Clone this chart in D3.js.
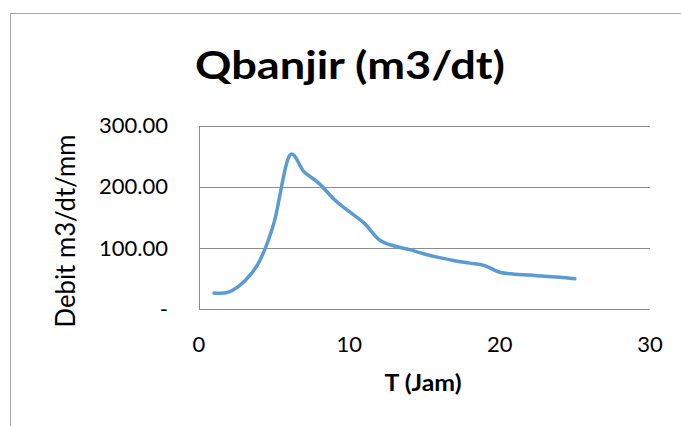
<!DOCTYPE html>
<html>
<head>
<meta charset="utf-8">
<script src="https://cdn.jsdelivr.net/npm/d3@7"></script>
<style>
  body { margin: 0; background: #fff; }
  svg { display: block; font-family: Lato, "Open Sans", sans-serif; }
</style>
</head>
<body>
<svg id="chart"></svg>
<script>
// data
var hours = [1, 2, 3, 4, 5, 6, 7, 8, 9, 10, 11, 12, 13, 14, 15, 16, 17, 18, 19, 20, 21, 22, 23, 24, 25];
var debit = [26, 28, 45, 77, 142, 250, 224, 205, 179, 159, 140, 113, 103, 97, 90, 84, 79, 75, 71, 60, 57, 55.5, 53.5, 52, 49.5];
var xTicks = [0, 10, 20, 30];
var yTicks = [0, 100, 200, 300];

var width = 681;
var height = 426;
var plot = {left: 199, right: 650, top: 125.5, bottom: 309};

var svg = d3.select("#chart")
    .attr("width", width)
    .attr("height", height);

// chart border (runs off the right and bottom edges)
svg.append("rect")
    .attr("x", 10.5)
    .attr("y", 13.5)
    .attr("width", width + 10)
    .attr("height", height + 10)
    .attr("fill", "#fff")
    .attr("stroke", "#a6a6a6")
    .attr("stroke-width", 1);

var xScale = d3.scaleLinear().domain([0, 30]).range([plot.left, plot.right]);
var yScale = d3.scaleLinear().domain([0, 300]).range([plot.bottom, plot.top]);

// gridlines
svg.append("g")
    .selectAll("line")
    .data(yTicks)
    .enter().append("line")
    .attr("x1", plot.left)
    .attr("x2", plot.right)
    .attr("y1", function (d) { return Math.round(yScale(d)) + 0.5; })
    .attr("y2", function (d) { return Math.round(yScale(d)) + 0.5; })
    .attr("stroke", "#8c8c8c")
    .attr("stroke-width", 1);

// left axis line
svg.append("line")
    .attr("x1", plot.left + 0.5)
    .attr("x2", plot.left + 0.5)
    .attr("y1", Math.round(yScale(300)) + 0.5)
    .attr("y2", Math.round(yScale(0)) + 0.5)
    .attr("stroke", "#8c8c8c");

// y tick labels
svg.append("g")
    .selectAll("text")
    .data(yTicks)
    .enter().append("text")
    .attr("x", 168)
    .attr("y", function (d) { return yScale(d); })
    .attr("dy", "0.35em")
    .attr("text-anchor", "end")
    .style("font-size", "22px")
    .attr("fill", "#000")
    .text(function (d) { return d === 0 ? "-" : d3.format(".2f")(d); });

// x tick labels
svg.append("g")
    .selectAll("text")
    .data(xTicks)
    .enter().append("text")
    .attr("x", function (d) { return xScale(d); })
    .attr("y", 352)
    .attr("text-anchor", "middle")
    .style("font-size", "22px")
    .attr("fill", "#000")
    .text(function (d) { return d; });

// series line
var line = d3.line()
    .x(function (d, i) { return xScale(hours[i]); })
    .y(function (d) { return yScale(d); })
    .curve(d3.curveCatmullRom.alpha(0));

svg.append("path")
    .datum(debit)
    .attr("d", line)
    .attr("fill", "none")
    .attr("stroke", "#5b9bd5")
    .attr("stroke-width", 3.5)
    .attr("stroke-linecap", "round")
    .attr("stroke-linejoin", "round");

// title
svg.append("text")
    .attr("x", 350)
    .attr("y", 79)
    .attr("text-anchor", "middle")
    .attr("textLength", 310)
    .attr("lengthAdjust", "spacingAndGlyphs")
    .style("font-size", "39px")
    .style("font-weight", "bold")
    .attr("fill", "#000")
    .text("Qbanjir (m3/dt)");

// axis titles
svg.append("text")
    .attr("x", 423)
    .attr("y", 391)
    .attr("text-anchor", "middle")
    .attr("textLength", 77)
    .attr("lengthAdjust", "spacingAndGlyphs")
    .style("font-size", "23px")
    .style("font-weight", "bold")
    .attr("fill", "#000")
    .text("T (Jam)");

svg.append("text")
    .attr("transform", "translate(75,231)rotate(-90)")
    .attr("text-anchor", "middle")
    .attr("textLength", 193)
    .attr("lengthAdjust", "spacingAndGlyphs")
    .style("font-size", "27px")
    .attr("fill", "#000")
    .text("Debit m3/dt/mm");
</script>
</body>
</html>
